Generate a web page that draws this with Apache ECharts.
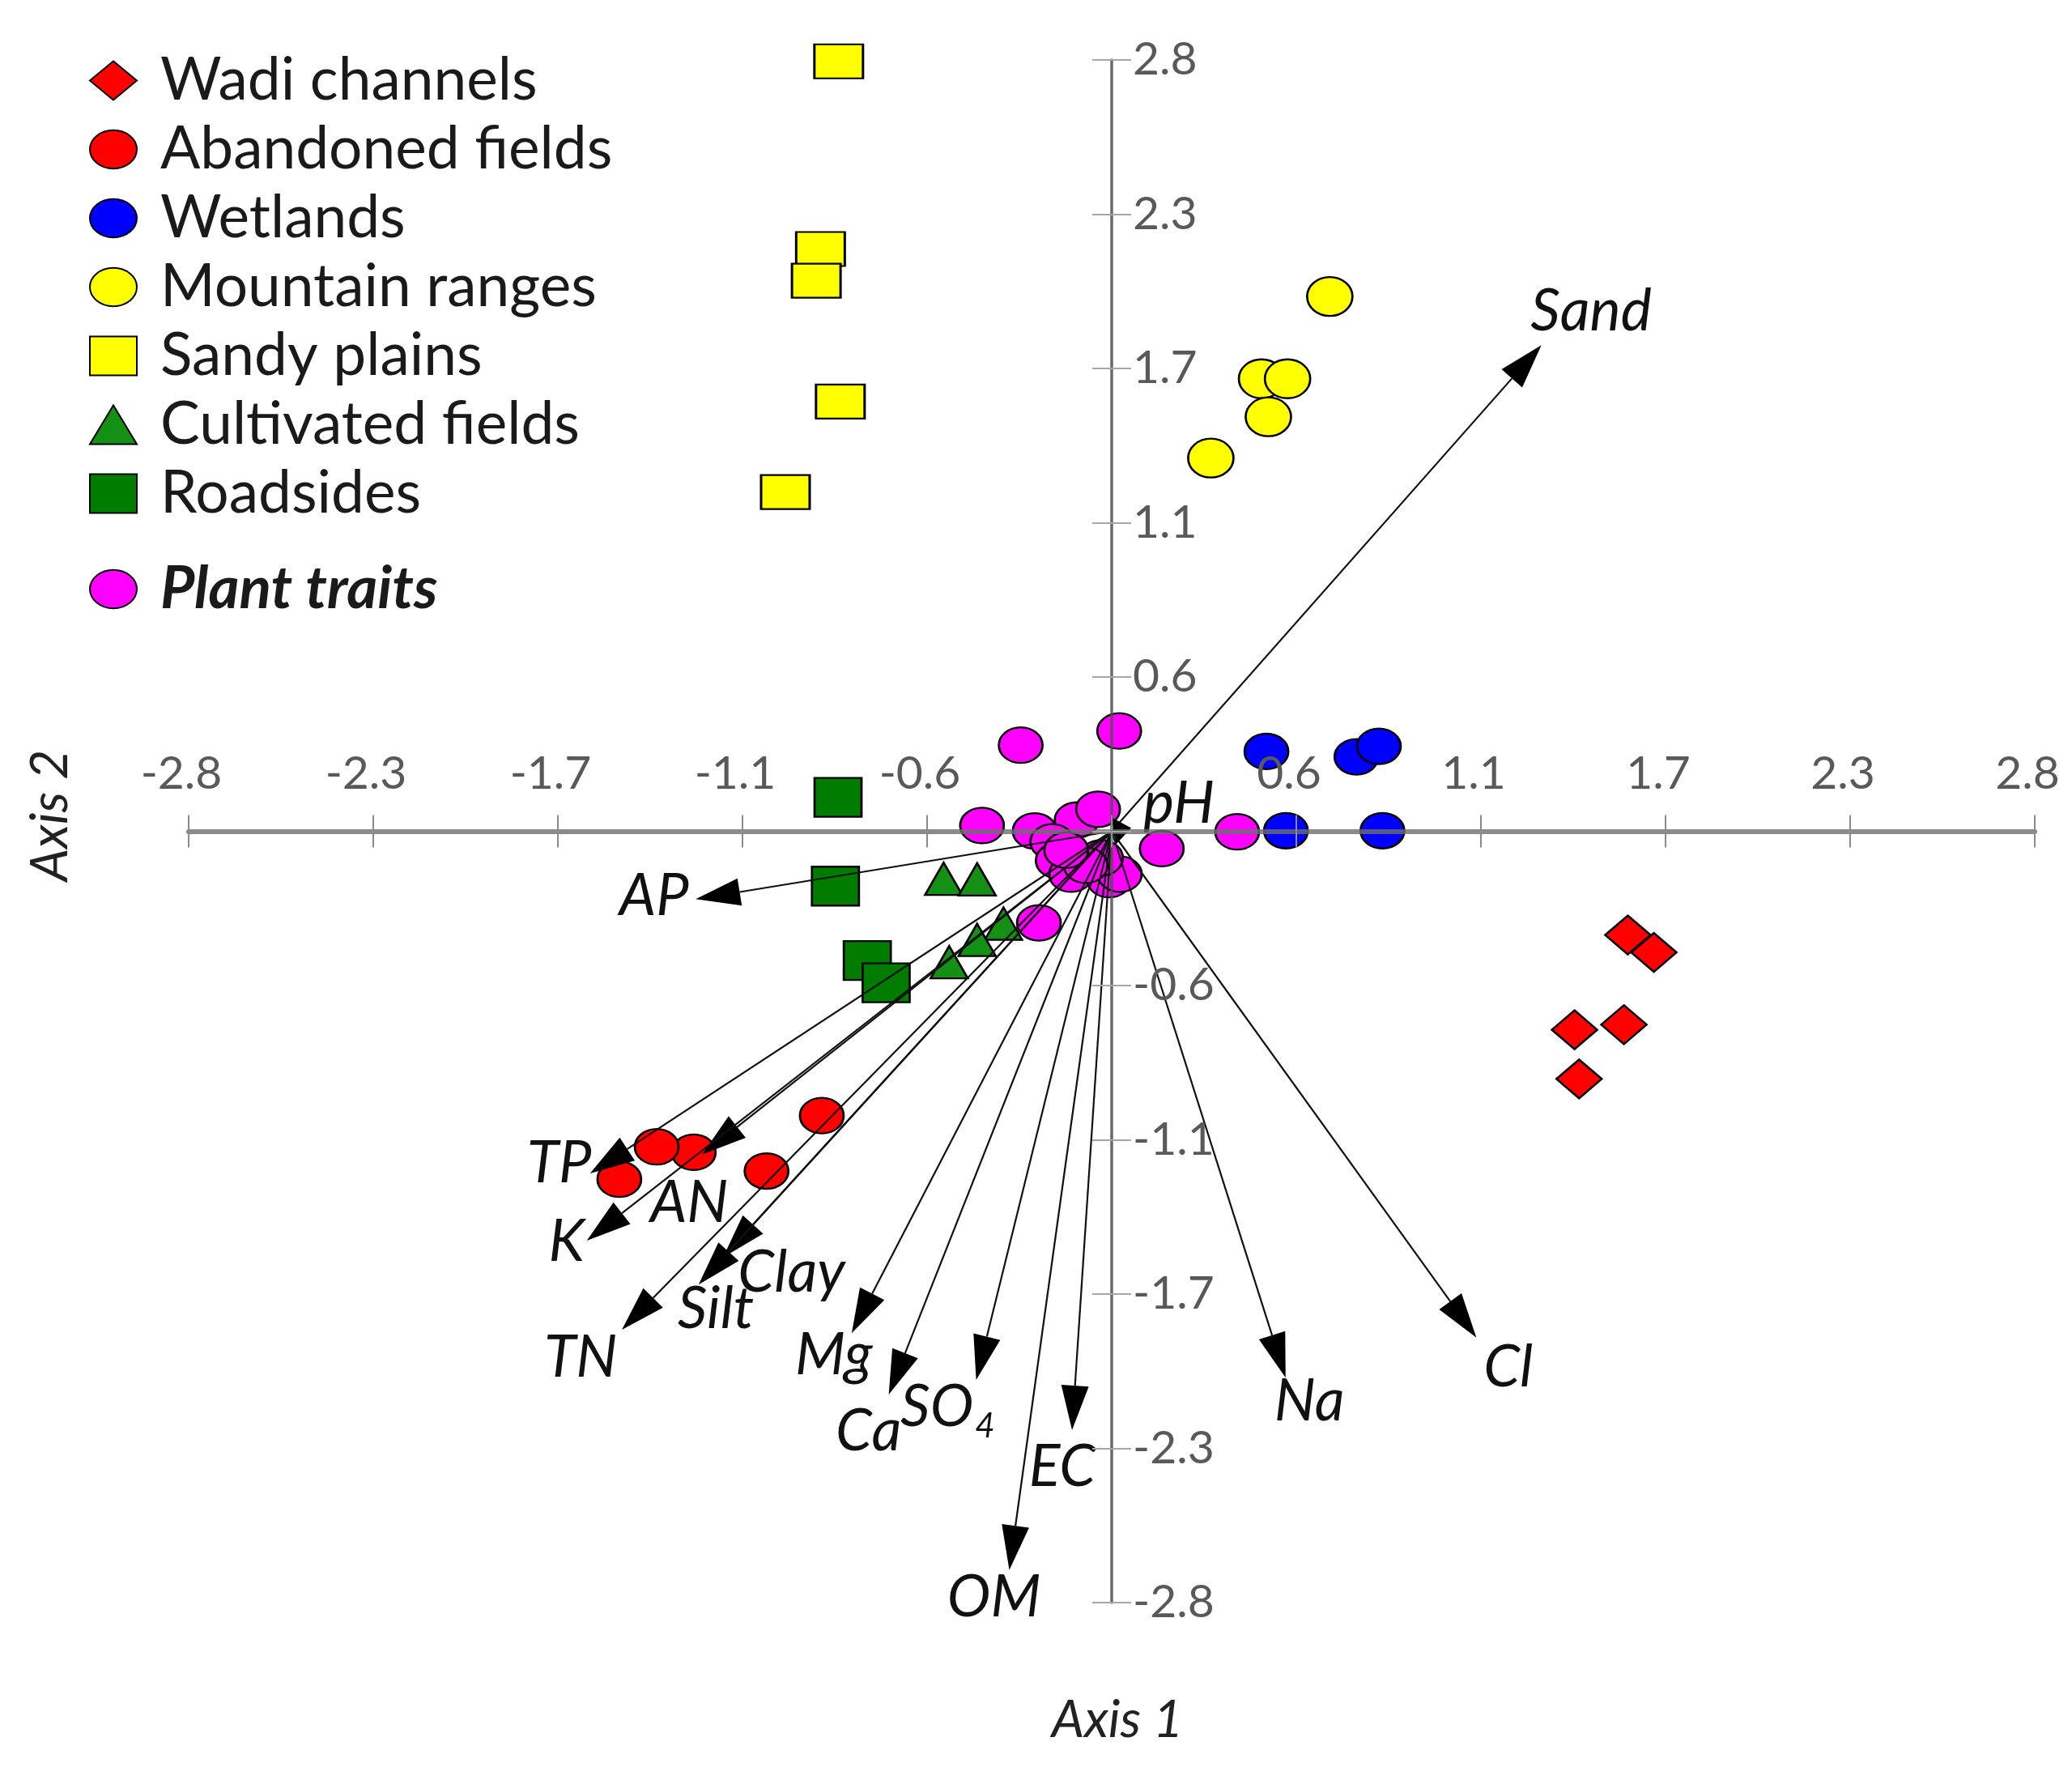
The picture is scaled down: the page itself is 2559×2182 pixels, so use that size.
<!DOCTYPE html>
<html>
<head>
<meta charset="utf-8">
<script src="https://cdn.jsdelivr.net/npm/echarts@6/dist/echarts.min.js"></script>
<style>
html,body{margin:0;padding:0;background:#fff;}
#chart{width:2559px;height:2182px;}
</style>
</head>
<body>
<div id="chart"></div>
<script>
// ---- axis ticks ----
const axisMin = -2.84;
const axisMax = 2.84;
const tickStep = 0.568;

// ---- site scores ----
const wadiChannels = [[1.588,-0.382],[1.668,-0.446],[1.424,-0.731],[1.576,-0.712],[1.438,-0.912]];
const abandonedFields = [[-0.892,-1.047],[-1.062,-1.251],[-1.286,-1.182],[-1.400,-1.162],[-1.515,-1.281]];
const wetlands = [[0.476,0.294],[0.753,0.274],[0.822,0.313],[0.536,0.002],[0.833,0.002]];
const mountainRanges = [[0.671,1.969],[0.461,1.666],[0.541,1.666],[0.482,1.526],[0.305,1.374]];
const sandyPlains = [[-0.840,2.835],[-0.896,2.144],[-0.909,2.027],[-0.835,1.582],[-1.004,1.249]];
const cultivatedFields = [[-0.517,-0.175],[-0.414,-0.177],[-0.333,-0.340],[-0.414,-0.400],[-0.500,-0.482]];
const roadsides = [[-0.842,0.125],[-0.850,-0.202],[-0.752,-0.476],[-0.694,-0.558]];
const plantTraits = [[0.023,0.369],[-0.280,0.317],[-0.399,0.021],[-0.237,0.001],[-0.108,0.041],[-0.042,0.081],
  [0.154,-0.064],[0.386,-0.002],[-0.224,-0.337],[-0.183,-0.039],[-0.166,-0.108],[-0.125,-0.158],
  [-0.008,-0.178],[0.025,-0.158],[-0.033,-0.098],[-0.080,-0.125],[-0.140,-0.070]];

// ---- environmental vectors ----
const vectorNames = ['Sand','pH','AP','TP','AN','K','Clay','Silt','TN','Mg','Ca','SO4','EC','OM','Na','Cl'];
const vectorX = [1.322, 0.060, -1.280, -1.605, -1.260, -1.615, -1.196, -1.271, -1.507, -0.800, -0.686, -0.417, -0.122, -0.315, 0.535, 1.122];
const vectorY = [1.790, 0.012, -0.250, -1.260, -1.190, -1.507, -1.569, -1.669, -1.835, -1.848, -2.074, -2.020, -2.205, -2.720, -2.012, -1.864];
const vectorLabelX = [1.475, 0.207, -1.408, -1.700, -1.300, -1.677, -0.985, -1.218, -1.634, -0.855, -0.748, -0.470, -0.152, -0.362, 0.608, 1.220];
const vectorLabelY = [1.913, 0.102, -0.238, -1.222, -1.368, -1.514, -1.625, -1.761, -1.940, -1.930, -2.210, -2.120, -2.340, -2.820, -2.100, -1.975];

const FONT = 'Lato, "Open Sans", sans-serif';
const ellipse = 'path://M0,22 A27,22 0 1,1 54,22 A27,22 0 1,1 0,22 Z';

// plot frame (pixels) and its centre
const G = { left: 233, right: 46, top: 74, bottom: 203, W: 2559, H: 2182 };
const cx = G.left + (G.W - G.left - G.right) / 2;
const cy = G.top + (G.H - G.top - G.bottom) / 2;

function scatter(name, data, symbol, size, color) {
  return {
    name, type: 'scatter', data, symbol, symbolSize: size, clip: false, z: 3,
    xAxisIndex: 0, yAxisIndex: 0,
    itemStyle: { color, borderColor: '#000', borderWidth: 2.5, opacity: 1 },
    emphasis: { disabled: true }
  };
}
const fmt = v => Math.abs(v) < 1e-6 ? '' : v.toFixed(1);
const tickLabel = { color: '#595959', fontSize: 57, fontFamily: FONT, showMinLabel: true, showMaxLabel: true };
const hidden = (gi, mn, mx) => ({ type: 'value', gridIndex: gi, min: mn, max: mx, show: false });
const fullRange = { type: 'value', min: axisMin, max: axisMax, interval: tickStep, splitLine: { show: false }, z: 6 };

const chart = echarts.init(document.getElementById('chart'), null, { renderer: 'canvas' });
const arrowData = vectorNames.map((n, i) => [vectorX[i], vectorY[i], vectorLabelX[i], vectorLabelY[i]]);

const option = {
  backgroundColor: '#fff',
  animation: false,
  grid: [
    { left: G.left, right: G.right, top: G.top, bottom: G.bottom, outerBoundsMode: 'none' },          // main
    { left: G.left, right: G.right, top: G.top, bottom: G.H - cy, outerBoundsMode: 'none' },          // upper half
    { left: G.left, right: G.right, top: cy, bottom: G.bottom, outerBoundsMode: 'none' },             // lower half
    { left: G.left, right: G.W - cx, top: G.top, bottom: G.bottom, outerBoundsMode: 'none' },         // left half
    { left: cx, right: G.right, top: G.top, bottom: G.bottom, outerBoundsMode: 'none' }               // right half
  ],
  xAxis: [
    hidden(0, axisMin, axisMax),
    Object.assign({}, fullRange, { gridIndex: 1, position: 'bottom',
      axisLine: { show: true, onZero: false, lineStyle: { color: 'rgba(110,110,110,0.8)', width: 6 } },
      axisTick: { show: true, inside: true, length: 20, lineStyle: { color: '#8c8c8c', width: 2 } },
      axisLabel: Object.assign({ show: true, inside: true, margin: 42, formatter: fmt, padding: [0, 18, 0, 0] }, tickLabel) }),
    Object.assign({}, fullRange, { gridIndex: 2, position: 'top',
      axisLine: { show: false, onZero: false },
      axisTick: { show: true, inside: true, length: 20, lineStyle: { color: '#8c8c8c', width: 2 } },
      axisLabel: { show: false } }),
    hidden(3, axisMin, 0),
    hidden(4, 0, axisMax)
  ],
  yAxis: [
    hidden(0, axisMin, axisMax),
    hidden(1, 0, axisMax),
    hidden(2, axisMin, 0),
    Object.assign({}, fullRange, { gridIndex: 3, position: 'right',
      axisLine: { show: false, onZero: false },
      axisTick: { show: true, inside: true, length: 24, lineStyle: { color: '#a6a6a6', width: 2 } },
      axisLabel: { show: false } }),
    Object.assign({}, fullRange, { gridIndex: 4, position: 'left',
      axisLine: { show: true, onZero: false, lineStyle: { color: 'rgba(80,80,80,0.85)', width: 3.5 } },
      axisTick: { show: true, inside: true, length: 24, lineStyle: { color: '#a6a6a6', width: 2 } },
      axisLabel: Object.assign({ show: true, inside: true, margin: 26, formatter: fmt }, tickLabel) })
  ],
  legend: [
    { data: ['Wadi channels','Abandoned fields','Wetlands','Mountain ranges','Sandy plains','Cultivated fields','Roadsides'],
      orient: 'vertical', left: 105, top: 58, itemWidth: 58, itemHeight: 48, itemGap: 12, selectedMode: false,
      textStyle: { fontFamily: FONT, fontSize: 73, color: '#1a1a1a', padding: [0, 0, 0, 24] } },
    { data: ['Plant traits'], orient: 'vertical', left: 105, top: 686, itemWidth: 58, itemHeight: 48, selectedMode: false,
      textStyle: { fontFamily: FONT, fontSize: 73, color: '#1a1a1a', fontWeight: 'bold', fontStyle: 'italic', padding: [0, 0, 0, 24] } }
  ],
  graphic: [
    { type: 'text', x: 1380, y: 2124, style: { text: 'Axis 1', fontFamily: FONT, fontSize: 64, fontStyle: 'italic', fill: '#222', align: 'center', verticalAlign: 'middle' } },
    { type: 'text', x: 62, y: 1007, rotation: Math.PI / 2, style: { text: 'Axis 2', fontFamily: FONT, fontSize: 64, fontStyle: 'italic', fill: '#222', align: 'center', verticalAlign: 'middle' } }
  ],
  series: [
    scatter('Wadi channels', wadiChannels, 'diamond', [56, 48], '#ff0000'),
    scatter('Abandoned fields', abandonedFields, ellipse, [54, 44], '#ff0000'),
    scatter('Wetlands', wetlands, ellipse, [54, 44], '#0000ff'),
    scatter('Mountain ranges', mountainRanges, ellipse, [56, 48], '#ffff00'),
    scatter('Sandy plains', sandyPlains, 'rect', [60, 42], '#ffff00'),
    scatter('Cultivated fields', cultivatedFields, 'triangle', [46, 40], '#149014'),
    scatter('Roadsides', roadsides, 'rect', [58, 48], '#007d00'),
    scatter('Plant traits', plantTraits, ellipse, [54, 44], '#ff00ff'),
    {
      name: 'vectors', type: 'custom', z: 4, data: arrowData, xAxisIndex: 0, yAxisIndex: 0,
      encode: { x: [0, 2], y: [1, 3] },
      renderItem: function (params, api) {
        const name = vectorNames[params.dataIndex];
        const o = api.coord([0, 0]);
        const p = api.coord([api.value(0), api.value(1)]);
        const l = api.coord([api.value(2), api.value(3)]);
        const dx = p[0] - o[0], dy = p[1] - o[1];
        const len = Math.sqrt(dx * dx + dy * dy);
        const ux = dx / len, uy = dy / len;
        const hl = Math.min(55, len * 0.9), hw = 17;
        const b = [p[0] - ux * hl, p[1] - uy * hl];
        const left = [b[0] - uy * hw, b[1] + ux * hw];
        const right = [b[0] + uy * hw, b[1] - ux * hw];
        const children = [
          { type: 'line', shape: { x1: o[0], y1: o[1], x2: b[0], y2: b[1] }, style: { stroke: '#111', lineWidth: 2.2 } },
          { type: 'polygon', shape: { points: [p, left, right] }, style: { fill: '#000' } }
        ];
        const ts = { fontFamily: FONT, fontSize: 72, fontStyle: 'italic', fill: '#111', verticalAlign: 'middle' };
        if (name === 'SO4') {
          children.push({ type: 'text', x: l[0] + 18, y: l[1], style: Object.assign({}, ts, { text: 'SO', align: 'right' }) });
          children.push({ type: 'text', x: l[0] + 20, y: l[1] + 24, style: Object.assign({}, ts, { text: '4', fontSize: 42, align: 'left' }) });
        } else {
          children.push({ type: 'text', x: l[0], y: l[1], style: Object.assign({}, ts, { text: name, align: 'center' }) });
        }
        return { type: 'group', children };
      }
    }
  ]
};
chart.setOption(option);
</script>
</body>
</html>
